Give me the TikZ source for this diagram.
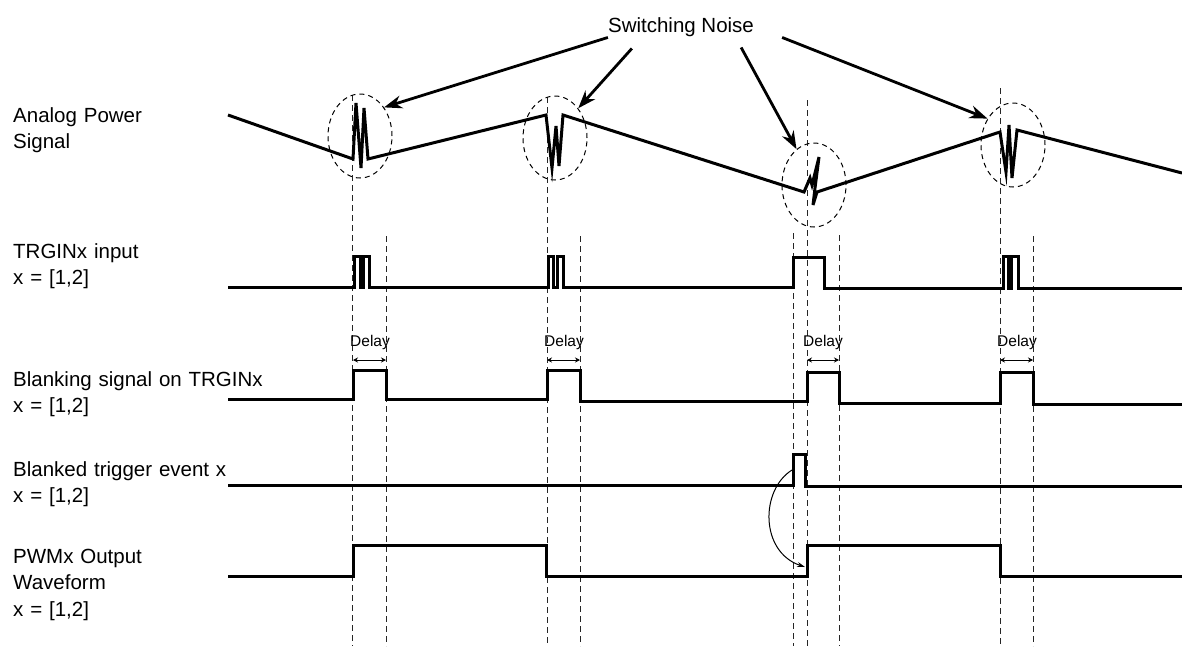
\documentclass[tikz,border=0pt]{standalone}
\usepackage{fontspec}
\setmainfont{Liberation Sans}
\usepackage{tikz}
\usetikzlibrary{shapes.geometric,arrows.meta,positioning,calc}
\tikzstyle{signal} = [line width=3pt]
\tikzstyle{guide} = [line width=0.8pt, dash pattern=on 6pt off 4pt, black!85]
\tikzstyle{noise} = [ellipse, draw, line width=1pt, dash pattern=on 5pt off 4pt, minimum width=64pt, minimum height=84pt, inner sep=0pt]
\tikzstyle{pointer} = [line width=2.8pt, -{Stealth[length=18pt,width=13pt]}]
\tikzstyle{delayarrow} = [line width=1pt, {Stealth[length=5pt,width=5pt]}-{Stealth[length=5pt,width=5pt]}]
\tikzstyle{trigger} = [line width=1pt, -{Stealth[length=8pt,width=5pt]}]
\tikzstyle{siglabel} = [anchor=base west, text width=300pt, align=left, inner sep=0pt, font=\fontsize{20.5}{26.5}\selectfont]
\tikzstyle{delaylabel} = [anchor=base, inner sep=0pt, font=\fontsize{15.5}{18}\selectfont]

\begin{document}
\begin{tikzpicture}[x=1pt, y=-1pt]
\useasboundingbox (0,0) rectangle (1182,659);

% SIGNAL NAMES
\node (lbl_analog) [siglabel] at (13,122) {Analog Power\\Signal};
\node (lbl_trgin) [siglabel] at (13,258) {TRGINx input\\x = [1,2]};
\node (lbl_blank) [siglabel] at (13,386) {Blanking signal on TRGINx\\x = [1,2]};
\node (lbl_event) [siglabel] at (13,476) {Blanked trigger event x\\x = [1,2]};
\node (lbl_pwm) [siglabel] at (13,563) {PWMx Output\\Waveform\\x = [1,2]};

% GUIDE LINES
\draw [guide] (352,95) -- (352,646);
\draw [guide] (386,236) -- (386,646);
\draw [guide] (547,97) -- (547,646);
\draw [guide] (580,236) -- (580,646);
\draw [guide] (793,233) -- (793,646);
\draw [guide] (807,100) -- (807,646);
\draw [guide] (839,235) -- (839,646);
\draw [guide] (1000,88) -- (1000,646);
\draw [guide] (1033,236) -- (1033,646);

% ANALOG POWER SIGNAL
\draw [signal] (228,115) -- (353,159) -- (356,103) -- (361,168) -- (364,108) -- (368,159)
  -- (546,115) -- (552,168) -- (556,126) -- (559,166) -- (563,115)
  -- (804,192) -- (810,178) -- (812,185) -- (819,157) -- (815,188) -- (813,205) -- (817,192)
  -- (1000,132) -- (1006,172) -- (1009,125) -- (1012,178) -- (1017,130) -- (1182,173);

% SWITCHING NOISE
\node (sw1) [noise] at (360,136) {};
\node (sw2) [noise] at (555,138) {};
\node (sw3) [noise] at (814,185) {};
\node (sw4) [noise] at (1013,145) {};
\node (swnoise) [anchor=base, inner sep=0pt, font=\fontsize{20.5}{24}\selectfont] at (681,32) {Switching Noise};

\draw [pointer] ([shift={(0,1)}]swnoise.south west) -- (sw1.50);
\draw [pointer] ([shift={(24,12)}]swnoise.south west) -- (sw2.52);
\draw [pointer] ([shift={(-13,11)}]swnoise.south east) -- (sw3.116);
\draw [pointer] ([shift={(28,1)}]swnoise.south east) -- (sw4.134);

% TRGINx INPUT
\draw [signal] (228,287) -- (354,287) -- (354,256) -- (360,256) -- (360,287) -- (363,287) -- (363,256) -- (369,256) -- (369,287)
  -- (548,287) -- (548,256) -- (553,256) -- (553,287) -- (557,287) -- (557,256) -- (563,256) -- (563,287)
  -- (793,287) -- (793,257) -- (824,257) -- (824,288)
  -- (1003,288) -- (1003,256) -- (1008,256) -- (1008,288) -- (1011,288) -- (1011,256) -- (1018,256) -- (1018,288) -- (1182,288);

% DELAY
\node (dly1) [delaylabel] at (370,346) {Delay};
\node (dly2) [delaylabel] at (564,346) {Delay};
\node (dly3) [delaylabel] at (823,346) {Delay};
\node (dly4) [delaylabel] at (1017,346) {Delay};
\coordinate (d1a) at (353,360); \coordinate (d1b) at (386,360);
\coordinate (d2a) at (547,360); \coordinate (d2b) at (580,360);
\coordinate (d3a) at (807,360); \coordinate (d3b) at (839,360);
\coordinate (d4a) at (1000,360); \coordinate (d4b) at (1033,360);
\draw [delayarrow] (d1a) -- (d1b);
\draw [delayarrow] (d2a) -- (d2b);
\draw [delayarrow] (d3a) -- (d3b);
\draw [delayarrow] (d4a) -- (d4b);

% BLANKING SIGNAL
\draw [signal] (228,399) -- (353,399) -- (353,370) -- (386,370) -- (386,399)
  -- (547,399) -- (547,370) -- (580,370) -- (580,401)
  -- (807,401) -- (807,372) -- (839,372) -- (839,403)
  -- (1000,403) -- (1000,372) -- (1033,372) -- (1033,404) -- (1182,404);

% BLANKED TRIGGER EVENT
\draw [signal] (228,485) -- (793,485) -- (793,454) -- (805,454) -- (805,486) -- (1182,486);

% PWM OUTPUT
\draw [signal] (228,576) -- (353,576) -- (353,545) -- (546,545) -- (546,576)
  -- (807,576) -- (807,545) -- (1000,545) -- (1000,576) -- (1182,576);

% event -> output
\coordinate (evt) at (792,470);
\coordinate (pwmrise) at (805,567);
\draw [trigger] (evt) .. controls (760,490) and (760,552) .. (pwmrise);

\end{tikzpicture}
\end{document}
